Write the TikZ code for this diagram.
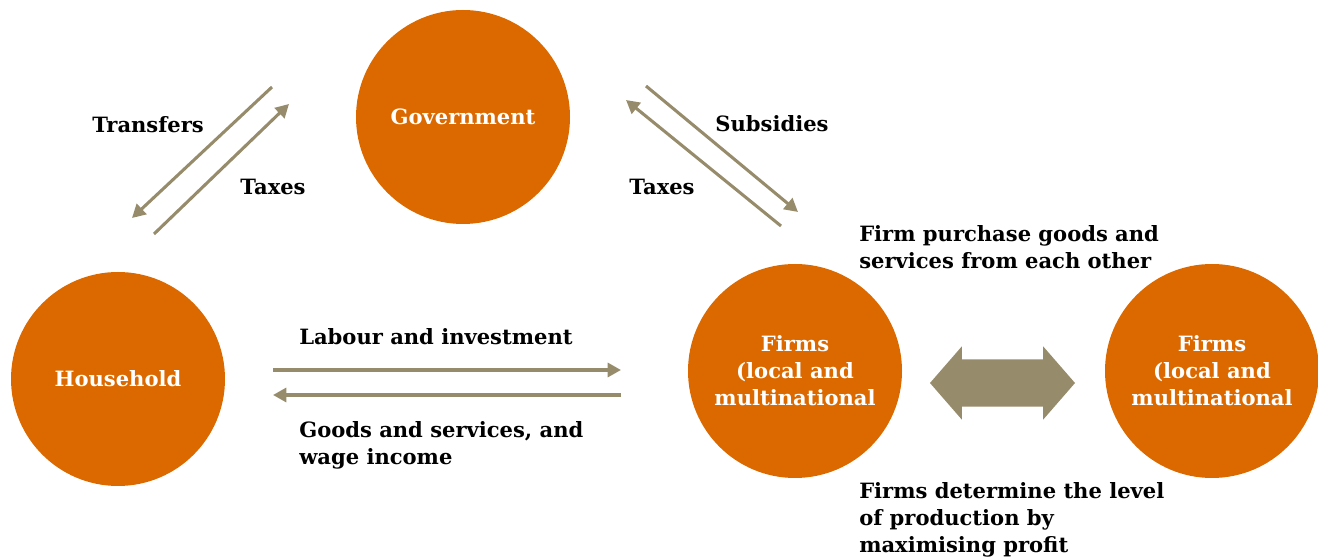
\documentclass[tikz,border=0pt]{standalone}
\usepackage{fontspec}
\setmainfont{DejaVu Serif}
\usetikzlibrary{arrows.meta,shapes.arrows}
\definecolor{agentorange}{HTML}{DC6900}
\definecolor{flowgrey}{HTML}{968B6A}

\begin{document}
\begin{tikzpicture}[x=0.75pt, y=-0.75pt,
font=\bfseries\fontsize{15.8}{20.25}\selectfont,
agent/.style={circle, fill=agentorange, minimum size=160.5pt, inner sep=0pt,
    text=white, align=center},
flow/.style={draw=flowgrey, line width=2.3pt, -{Triangle[length=10pt,width=10.5pt]}},
lbl/.style={inner sep=0pt},
note/.style={align=left, anchor=west, inner sep=0pt},
]
\useasboundingbox (0,0) rectangle (1318,559);

% sectors
\node[agent] (gov) at (463,117) {Government};
\node[agent] (house) at (118,379) {Household};
\node[agent] (firmA) at (795,371) {Firms\\(local and\\multinational};
\node[agent] (firmB) at (1212,371) {Firms\\(local and\\multinational};

% free ends of the flows
\coordinate (tr-s) at (272,87);   \coordinate (tr-e) at (132,218);
\coordinate (tx-s) at (154,234);  \coordinate (tx-e) at (289,104);
\coordinate (sb-s) at (646,86);   \coordinate (sb-e) at (798,212);
\coordinate (ty-s) at (781,226);  \coordinate (ty-e) at (626,100);
\coordinate (lb-s) at (273,370);  \coordinate (lb-e) at (621,370);
\coordinate (gd-s) at (621,395);  \coordinate (gd-e) at (273,395);

\draw[flow] (tr-s) -- (tr-e);
\draw[flow] (tx-s) -- (tx-e);
\draw[flow] (sb-s) -- (sb-e);
\draw[flow] (ty-s) -- (ty-e);
\draw[flow] (lb-s) -- (lb-e);
\draw[flow] (gd-s) -- (gd-e);

\node[double arrow, fill=flowgrey, inner xsep=0pt, inner ysep=17.6pt,
    minimum height=108.75pt, double arrow head extend=9.75pt,
    double arrow tip angle=98] (trade) at (1002.5,383) {};

% labels
\node[lbl] (l-tr) at (148,125) {Transfers};
\node[lbl] (l-tx) at (273,187) {Taxes};
\node[lbl] (l-sb) at (772,124) {Subsidies};
\node[lbl] (l-ty) at (662,187) {Taxes};
\node[note] (l-lb) at (299,337) {Labour and investment};
\node[note] (l-gd) at (299,445.5) {Goods and services, and\\wage income};
\node[note] (l-fp) at (859,247.5) {Firm purchase goods and\\services from each other};
\node[note] (l-fd) at (859,520) {Firms determine the level\\of production by\\maximising profit};
\end{tikzpicture}
\end{document}
